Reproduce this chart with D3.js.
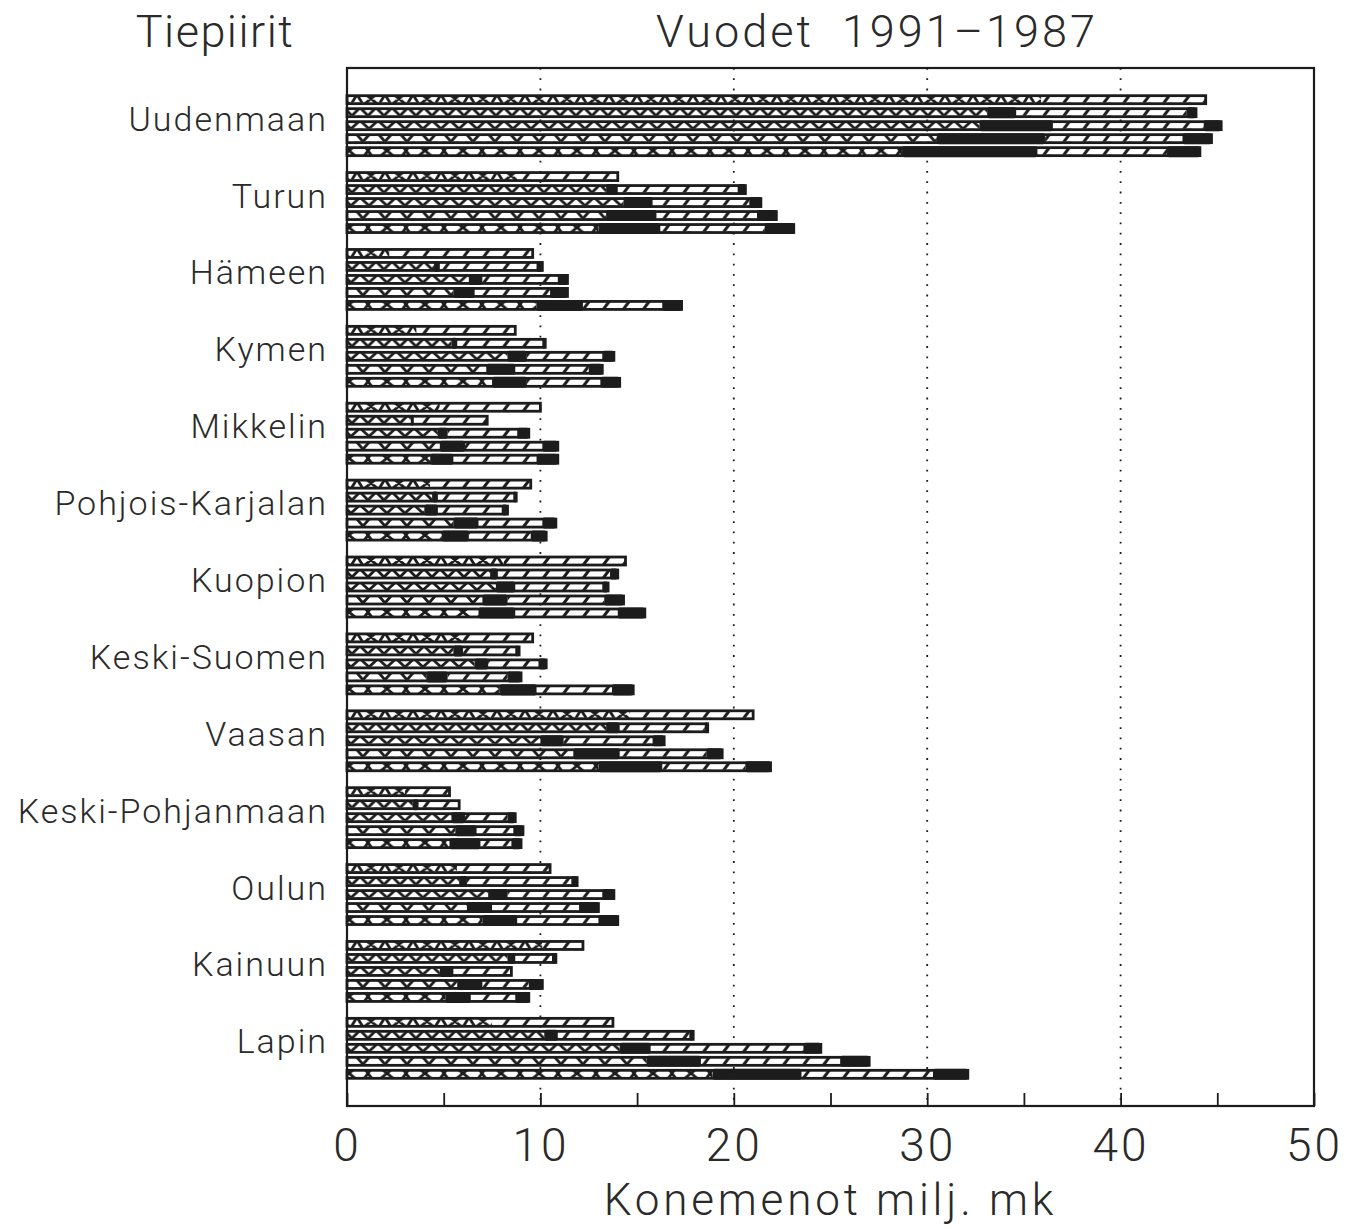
<!DOCTYPE html>
<html><head><meta charset="utf-8">
<script src="https://cdn.jsdelivr.net/npm/d3@7"></script>
<style>
body{margin:0;background:#fff}
svg{display:block}
text{font-family:Roboto,"DejaVu Sans",sans-serif;font-weight:300;fill:#2a2a2a}
</style>
</head><body>
<svg id="c" width="1362" height="1229"></svg>
<script>
// ---------------- DATA ----------------
const districts = ["Uudenmaan","Turun","Hämeen","Kymen","Mikkelin","Pohjois-Karjalan","Kuopion",
  "Keski-Suomen","Vaasan","Keski-Pohjanmaan","Oulun","Kainuun","Lapin"];
const years = ["1991","1990","1989","1988","1987"];
const xTicks = [0,10,20,30,40,50];
const xMinorTicks = [5,15,25,35,45];
const titleLeft = "Tiepiirit";
const titleRight = "Vuodet  1991\u20131987";
const xTitle = "Konemenot milj. mk";

// segment lengths (milj. mk), per district, per year 1991..1987
// A: patterned part, B: black middle part, C: diagonally hatched part, D: black end part
const segA = [
  [35.9,33.1,32.7,30.5,28.7],[8.8,13.4,14.3,13.4,13.0],[2.2,4.5,6.3,5.5,9.8],[3.6,5.4,8.3,7.2,7.5],
  [4.8,3.3,4.7,4.8,4.3],[4.3,4.4,4.0,5.5,4.9],[8.1,7.4,7.7,7.0,6.8],[6.1,5.5,6.6,4.1,7.9],
  [14.6,13.4,10.0,11.7,13.0],[3.0,3.4,5.4,5.6,5.3],[5.7,5.8,7.3,6.2,7.0],[10.1,8.3,4.8,5.7,5.1],
  [7.5,10.2,14.1,15.5,18.9]];
const segB = [
  [0,1.5,3.8,5.6,7.0],[0,0.6,1.5,2.6,3.2],[0,0.3,0.7,1.1,2.4],[0,0.3,1.0,1.5,1.8],
  [0,0.15,0.5,1.3,1.2],[0,0.3,0.7,1.3,1.4],[0,0.4,1.0,1.3,1.9],[0,0.5,0.7,1.1,1.9],
  [0,0.7,1.2,2.4,3.3],[0,0.3,0.7,1.1,1.6],[0,0.4,1.0,1.3,1.8],[0,0.4,0.7,1.3,1.3],
  [0,0.7,1.6,2.8,4.6]];
const segC = [
  [8.5,8.8,7.8,7.1,6.7],[5.2,6.2,5.0,5.2,5.4],[7.4,5.0,3.9,3.9,4.1],[5.1,4.4,3.9,3.8,3.8],
  [5.2,3.8,3.6,4.0,4.3],[5.2,3.9,3.3,3.3,3.2],[6.3,5.8,4.5,5.0,5.3],[3.5,2.7,2.6,3.1,3.9],
  [6.4,4.4,4.6,4.5,4.3],[2.3,2.1,2.2,1.9,1.6],[4.8,5.4,4.9,4.5,4.2],[2.1,1.9,3.0,2.4,2.3],
  [6.25,6.8,7.9,7.2,6.8]];
const segD = [
  [0,0.5,0.9,1.5,1.7],[0,0.4,0.6,1.0,1.5],[0,0.3,0.5,0.9,1.0],[0,0.15,0.6,0.7,1.0],
  [0,0,0.6,0.8,1.1],[0,0.15,0.3,0.7,0.8],[0,0.4,0.3,1.0,1.4],[0,0.2,0.4,0.7,1.1],
  [0,0.15,0.6,0.8,1.3],[0,0,0.4,0.5,0.5],[0,0.3,0.6,1.0,1.0],[0,0.2,0,0.7,0.7],
  [0,0.2,0.9,1.5,1.8]];

// ---------------- CHART ----------------
const svg = d3.select("#c");
const plot = {left:347, right:1314, top:68, bottom:1106};
const ink = "#1c1c1c";

const x = d3.scaleLinear().domain([0,50]).range([plot.left, plot.right]);
const yG = d3.scaleBand().domain(districts).range([plot.top, plot.bottom])
  .paddingInner(0.194).paddingOuter(0.347);
const yY = d3.scaleBand().domain(years).range([0, yG.bandwidth()]).paddingInner(0.23).paddingOuter(0);

// patterns
const defs = svg.append("defs");
const PH = 8;
function pat(id, w, d, sw){
  const p = defs.append("pattern").attr("id", id).attr("patternUnits","userSpaceOnUse")
    .attr("x",0).attr("y",0).attr("width", w).attr("height", PH);
  p.append("rect").attr("width", w).attr("height", PH).attr("fill","#fff");
  p.append("path").attr("d", d).attr("stroke", ink).attr("stroke-width", sw)
    .attr("fill","none").attr("stroke-linecap","square");
}
pat("pa0", 28, "M2,0 L12,8 M2,8 L12,0 M16,8 L21,0 L26,8", 2.8);
pat("pa1", 16, "M0,8 L8,0 L16,8", 2.8);
pat("pa2", 18, "M0,0 L9,8 L18,0", 2.8);
pat("pa3", 22, "M4,0 L11,8 L18,0", 2.8);
pat("pa4", 38, "M2,0 L12,8 M2,8 L12,0 M23,0 L26,4 L23,8 M29,0 L26,4 L29,8", 2.8);
pat("hatch", 20, "M4,8 L10,0", 3);

// grid
svg.append("g").selectAll("line").data(xTicks.filter(t => t > 0 && t < 50)).join("line")
  .attr("x1", d => x(d)).attr("x2", d => x(d)).attr("y1", plot.top).attr("y2", plot.bottom)
  .attr("stroke", ink).attr("stroke-width", 1.8).attr("stroke-dasharray", "1.8,8.5");

// data rows + stack
const keys = ["A","B","C","D"];
const rows = [];
districts.forEach((d,i) => years.forEach((yr,j) => rows.push({
  district:d, year:yr, yi:j, A:segA[i][j], B:segB[i][j], C:segC[i][j], D:segD[i][j]})));
const stacked = d3.stack().keys(keys)(rows);

const bars = svg.append("g").selectAll("g.bar").data(rows).join("g").attr("class","bar")
  .attr("transform", d => `translate(0,${yG(d.district) + yY(d.year)})`);
const bh = yY.bandwidth();
const inner = bh - 2;

bars.each(function(d, idx){
  const g = d3.select(this);
  const seg = k => stacked[keys.indexOf(k)][idx];
  const a = seg("A"), c = seg("C");
  g.append("rect").attr("x", x(a[0])).attr("width", x(a[1]) - x(a[0]))
    .attr("y", 1).attr("height", inner).attr("fill", `url(#pa${d.yi})`);
  g.append("rect").attr("x", x(c[0])).attr("width", x(c[1]) - x(c[0]))
    .attr("y", 1).attr("height", inner).attr("fill", "url(#hatch)");
  const total = stacked[3][idx][1];
  g.append("rect").attr("x", x(0)).attr("width", x(total) - x(0))
    .attr("y", 1).attr("height", inner).attr("fill","none").attr("stroke", ink).attr("stroke-width", 2.8);
  ["B","D"].forEach(k => {
    const s = seg(k);
    if (s[1] - s[0] > 0) {
      g.append("rect").attr("x", x(s[0])).attr("width", Math.max(3, x(s[1]) - x(s[0])))
        .attr("y", -0.5).attr("height", inner + 3).attr("rx", 2).attr("fill", ink);
    }
  });
});

// frame
svg.append("rect").attr("x", plot.left).attr("y", plot.top)
  .attr("width", plot.right - plot.left).attr("height", plot.bottom - plot.top)
  .attr("fill","none").attr("stroke", ink).attr("stroke-width", 2.2);

// x axis (ticks inward, labels below)
const axMajor = d3.axisBottom(x).tickValues(xTicks).tickSize(-13).tickPadding(22).tickFormat(d3.format("d"));
const gx = svg.append("g").attr("transform", `translate(0,${plot.bottom})`).call(axMajor);
gx.select(".domain").remove();
gx.selectAll(".tick line").attr("stroke", ink).attr("stroke-width", 1.8);
gx.selectAll(".tick text").attr("font-size", 46).attr("fill", "#2a2a2a")
  .attr("font-family", "Roboto, 'DejaVu Sans', sans-serif").attr("font-weight", 300).attr("letter-spacing", 3);
const axMinor = d3.axisBottom(x).tickValues(xMinorTicks).tickSize(-13).tickFormat("");
const gm = svg.append("g").attr("transform", `translate(0,${plot.bottom})`).call(axMinor);
gm.select(".domain").remove();
gm.selectAll(".tick line").attr("stroke", ink).attr("stroke-width", 1.8);

// category labels
svg.append("g").selectAll("text").data(districts).join("text")
  .attr("x", 328).attr("y", d => yG(d) + 36).attr("text-anchor","end")
  .attr("font-size", 34).attr("letter-spacing", 2).text(d => d);

// titles
svg.append("text").attr("x", 215).attr("y", 47).attr("text-anchor","middle")
  .attr("font-size", 45).attr("letter-spacing", 1.5).text(titleLeft);
svg.append("text").attr("x", 877).attr("y", 47).attr("text-anchor","middle")
  .attr("font-size", 45).attr("letter-spacing", 3).style("white-space","pre").text(titleRight);
svg.append("text").attr("x", (plot.left + plot.right) / 2).attr("y", 1215).attr("text-anchor","middle")
  .attr("font-size", 44).attr("letter-spacing", 3.8).text(xTitle);
</script>
</body></html>
